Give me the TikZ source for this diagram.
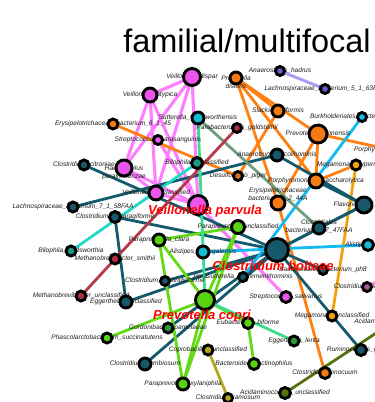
\documentclass[tikz,border=0pt]{standalone}
\usepackage{fontspec}
\setsansfont{Liberation Sans}
\usetikzlibrary{arrows.meta}
\pgfdeclarelayer{paper}
\pgfdeclarelayer{edges}
\pgfdeclarelayer{labels}
\pgfdeclarelayer{names}
\pgfsetlayers{paper,edges,labels,main,names}

\definecolor{vmag}{HTML}{EC55EC}
\definecolor{pinkedge}{HTML}{FF7DFF}
\definecolor{orng}{HTML}{F57A14}
\definecolor{orngedge}{HTML}{FF8012}
\definecolor{brorng}{HTML}{D27424}
\definecolor{gold}{HTML}{F2A20C}
\definecolor{teal}{HTML}{17596A}
\definecolor{tealedge}{HTML}{125A6C}
\definecolor{cyn}{HTML}{14BCD2}
\definecolor{skyedge}{HTML}{12B9F2}
\definecolor{turq}{HTML}{22D8C6}
\definecolor{seaf}{HTML}{3CDB8E}
\definecolor{grgreen}{HTML}{6E9E80}
\definecolor{lime}{HTML}{55D40F}
\definecolor{limeedge}{HTML}{62DA14}
\definecolor{dgreen}{HTML}{2A9A3A}
\definecolor{dred}{HTML}{AE2E40}
\definecolor{dredge}{HTML}{B53A4A}
\definecolor{lav}{HTML}{6A5AD6}
\definecolor{lavedge}{HTML}{A89CF6}
\definecolor{olv}{HTML}{B5A81A}
\definecolor{dolv}{HTML}{567312}
\definecolor{bilg}{HTML}{1A9A82}
\definecolor{mauve}{HTML}{B05C9C}

\tikzset{
  taxnode/.style={circle, draw=black, line width=2.9pt, inner sep=0pt, outer sep=0pt},
  taxlbl/.style={font=\sffamily\itshape\fontsize{6.6}{7.8}\selectfont, inner sep=0pt, align=center, text=black!88},
  bigname/.style={font=\sffamily\bfseries\itshape\fontsize{13}{15}\selectfont, text=red, inner sep=0pt},
  edge/.style={line width=2.8pt},
}

% #1 label shift, #2 name, #3 x, #4 y, #5 size, #6 fill, #7 label
\newcommand{\taxon}[7][0]{%
  \node[taxnode, minimum size=#5pt, fill=#6] (#2) at (#3,#4) {};
  \begin{pgfonlayer}{labels}
    \node[taxlbl] (#2-lbl) at (#3,#4+#1) {#7};
  \end{pgfonlayer}}

\begin{document}
\begin{tikzpicture}[x=1pt, y=-1pt]
\useasboundingbox (0,0) rectangle (375,402);
\begin{pgfonlayer}{paper}
  \fill[white] (0,0) rectangle (375,402);
\end{pgfonlayer}

\node[font=\sffamily\fontsize{32.5}{38}\selectfont, inner sep=0pt] (title) at (247,40.5) {familial/multifocal};

\taxon{vdisp}{192}{77}{17}{vmag}{Veillonella\_dispar}
\taxon{vatyp}{150}{95}{14}{vmag}{Veillonella\_atypica}
\taxon[4.5]{pdis}{236}{78}{12}{orng}{Prevotella\\disiens}
\taxon{ahad}{280}{71}{9}{lav}{Anaerostipes\_hadrus}
\taxon{lach5}{325}{89}{9}{lav}{Lachnospiraceae\_bacterium\_5\_1\_63FAA}
\taxon{sutt}{198}{118}{12}{cyn}{Sutterella\_wadsworthensis}
\taxon{ery6}{113}{124}{10}{orng}{Erysipelotrichaceae\_bacterium\_6\_1\_45}
\taxon{pgold}{237}{128}{9}{dred}{Parabacteroides\_goldsteinii}
\taxon{slack}{278}{111}{12}{orng}{Slackia\_piriformis}
\taxon{burk}{362}{117}{9}{skyedge}{Burkholderiales\_bacterium\_1\_1\_47}
\taxon{ptim}{318}{134}{18}{orng}{Prevotella\_timonensis}
\taxon{spara}{158}{140}{9}{vmag}{Streptococcus\_parasanguinis}
\taxon{anaer}{277}{155}{12}{teal}{Anaerotruncus\_colihominis}
\taxon{megah}{356}{165}{10}{gold}{Megamonas\_hypermegale}
\taxon{bilu}{197}{163}{11}{bilg}{Bilophila\_unclassified}
\taxon{ccit}{84}{165}{10}{teal}{Clostridium\_citroniae}
\taxon[4.5]{haemo}{124}{168}{16}{vmag}{Haemophilus\\parainfluenzae}
\taxon{dpig}{238}{176}{9}{brorng}{Desulfovibrio\_piger}
\taxon{porph}{316}{181}{14}{orng}{Porphyromonas\_asaccharolytica}
\taxon[-8.5]{ery2}{278}{203}{14}{orng}{Erysipelotrichaceae\\bacterium\_2\_2\_44A}
\taxon{vunc}{156}{193}{14}{vmag}{Veillonella\_unclassified}
\taxon{lach7}{73}{207}{10}{teal}{Lachnospiraceae\_bacterium\_7\_1\_58FAA}
\taxon{caspa}{115}{217}{11}{teal}{Clostridium\_asparagiforme}
\taxon{vparv}{198}{205}{19}{vmag}{}
\taxon{flav}{364}{205}{16}{teal}{Flavonifractor\_plautii}
\taxon[-1.5]{cbact}{319}{228}{12}{teal}{Clostridiales\\bacterium\_1\_7\_47FAA}
\taxon{ppunc}{238}{227}{13}{lime}{Paraprevotella\_unclassified}
\taxon{pclar}{159}{240}{12}{lime}{Paraprevotella\_clara}
\taxon{cbolt}{277}{250}{23}{teal}{}
\taxon{alx}{368}{245}{11}{cyn}{Alistipes\_shahii}
\taxon{bwad}{71}{251}{10}{bilg}{Bilophila\_wadsworthia}
\taxon{alsen}{203}{252}{12}{cyn}{Alistipes\_senegalensis}
\taxon{msmi}{115}{259}{10}{dred}{Methanobrevibacter\_smithii}
\taxon{bph8}{323}{270}{9}{teal}{Bacteroidales\_bacterium\_ph8}
\taxon{psut}{243}{277}{9}{teal}{Parasutterella\_excrementihominis}
\taxon{chat}{367}{287}{9}{mauve}{Clostridium\_hathewayi}
\taxon{cclo}{165}{281}{9}{teal}{Clostridium\_clostridioforme}
\taxon{ssal}{286}{297}{11}{vmag}{Streptococcus\_salivarius}
\taxon{munc}{81}{296}{10}{dred}{Methanobrevibacter\_unclassified}
\taxon{eggu}{126}{302}{12}{teal}{Eggerthella\_unclassified}
\taxon{pcop}{205}{300}{19}{lime}{}
\taxon{megu}{332}{316}{10}{gold}{Megamonas\_unclassified}
\taxon{ebif}{248}{323}{11}{lime}{Eubacterium\_biforme}
\taxon{gord}{168}{328}{10}{dgreen}{Gordonibacter\_pamelaeae}
\taxon{phasc}{107}{338}{10}{lime}{Phascolarctobacterium\_succinatutens}
\taxon{eglen}{294}{341}{10}{dgreen}{Eggerthella\_lenta}
\taxon{rumi}{361}{350}{11}{teal}{Ruminococcus\_gnavus}
\taxon{copr}{208}{350}{10}{olv}{Coprobacillus\_unclassified}
\taxon{csym}{145}{364}{12}{teal}{Clostridium\_symbiosum}
\taxon{bpec}{254}{364}{11}{lime}{Bacteroides\_pectinophilus}
\taxon{cinn}{325}{373}{11}{orng}{Clostridium\_innocuum}
\taxon{pxyl}{183}{384}{12}{lime}{Paraprevotella\_xylaniphila}
\taxon{acidu}{285}{393}{11}{dolv}{Acidaminococcus\_unclassified}
\taxon{cram}{228}{398}{9}{olv}{Clostridium\_ramosum}
\taxon{acidi}{393}{322}{11}{dolv}{Acidaminococcus\_intestini}
\taxon{porphx}{392}{150}{10}{orng}{Porphyromonas\_somerae}
\coordinate (chat-out) at (386,277);

\begin{pgfonlayer}{edges}
  \foreach \a/\b in {vdisp/vatyp, vdisp/haemo, vdisp/vunc, vdisp/vparv, vatyp/haemo,
      vatyp/vparv, vatyp/vunc, haemo/vunc, haemo/vparv, vunc/vparv, spara/vparv,
      vparv/ssal, chat/chat-out}
    \draw[edge, pinkedge, line width=3.1pt] (\a) -- (\b);
  \foreach \a/\b in {ery6/dpig, pdis/ptim, pdis/ery2, pdis/porph, pdis/slack, slack/dpig,
      ptim/porph, ptim/ery2, ptim/porphx, porph/megah, ery2/cinn}
    \draw[edge, orngedge] (\a) -- (\b);
  \draw[edge, gold] (megah) -- (megu);
  \foreach \a/\b in {ccit/cbolt, lach7/anaer, caspa/eggu, caspa/cbolt, anaer/flav,
      porph/flav, cbact/flav, cbact/cbolt, flav/cbolt, cbolt/bph8, cbolt/psut,
      cbolt/cclo, cbolt/eggu, cbolt/csym, cbolt/rumi, cbolt/gord}
    \draw[edge, tealedge] (\a) -- (\b);
  \foreach \a/\b in {ppunc/pclar, ppunc/pcop, ppunc/pxyl, pclar/pcop, pclar/pxyl,
      pcop/pxyl, pcop/phasc, pcop/ebif, ebif/bpec}
    \draw[edge, limeedge] (\a) -- (\b);
  \draw[edge, skyedge] (burk) -- (psut);
  \draw[edge, skyedge] (alsen) -- (alx);
  \draw[edge, turq] (bwad) -- (bilu);
  \draw[edge, seaf] (sutt) -- (pcop);
  \draw[edge, seaf] (pcop) -- (eglen);
  \draw[edge, grgreen] (sutt) -- (cbact);
  \draw[edge, dredge] (pgold) -- (msmi);
  \draw[edge, dredge] (msmi) -- (munc);
  \draw[edge, lavedge] (ahad) -- (lach5);
  \draw[edge, olv] (copr) -- (cram);
  \draw[edge, dolv] (acidu) -- (acidi);
\end{pgfonlayer}

\begin{pgfonlayer}{names}
  \node[bigname] (vparv-name) at (205,211) {Veillonella parvula};
  \node[bigname] (cbolt-name) at (273,266) {Clostridium bolteae};
  \node[bigname] (pcop-name) at (202,316) {Prevotella copri};
\end{pgfonlayer}
\end{tikzpicture}
\end{document}
